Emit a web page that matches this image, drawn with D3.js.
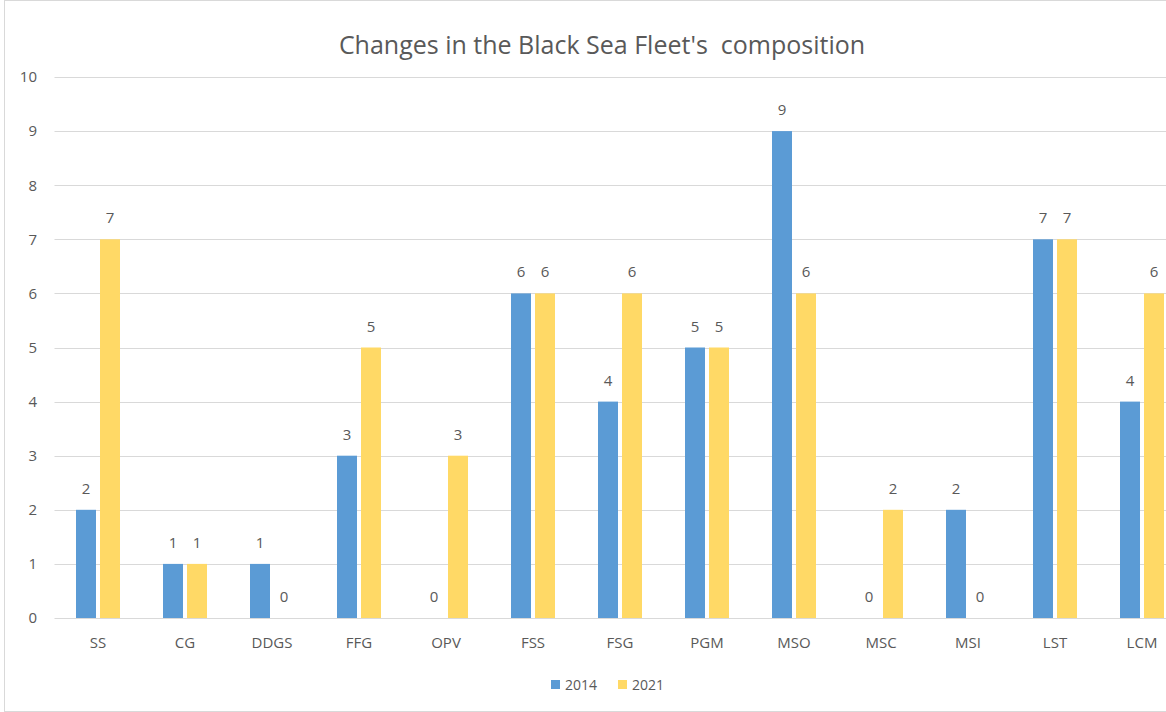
<!DOCTYPE html>
<html>
<head>
<meta charset="utf-8">
<script src="https://cdn.jsdelivr.net/npm/d3@7"></script>
<style>
  body { margin: 0; background: #fff; }
  svg { display: block; }
  text { font-family: 'Open Sans', 'Noto Sans', sans-serif; fill: #595959; }
</style>
</head>
<body>
<div id="chart"></div>
<script>
'use strict';

const categories = ['SS', 'CG', 'DDGS', 'FFG', 'OPV', 'FSS', 'FSG', 'PGM', 'MSO', 'MSC', 'MSI', 'LST', 'LCM'];
const seriesNames = ['2014', '2021'];
const values2014 = [2, 1, 1, 3, 0, 6, 4, 5, 9, 0, 2, 7, 4];
const values2021 = [7, 1, 0, 5, 3, 6, 6, 5, 6, 2, 0, 7, 6];
const yTicks = [0, 1, 2, 3, 4, 5, 6, 7, 8, 9, 10];
const colors = ['#5B9BD5', '#FFD966'];

(function(doc) {
    const W = 1166, H = 712;
    const plot = {left: 54.5, right: 1185.5, top: 77, bottom: 618};

    const svg = d3.select('#chart').append('svg')
        .attr('width', W)
        .attr('height', H);

    // outer chart border (cut off at the right)
    svg.append('rect')
        .attr('x', 4.5).attr('y', 0.5)
        .attr('width', W + 10).attr('height', H - 1)
        .attr('fill', 'none')
        .attr('stroke', '#D9D9D9');

    svg.append('text')
        .attr('x', 602).attr('y', 54)
        .attr('text-anchor', 'middle')
        .style('font-size', '25px')
        .style('white-space', 'pre')
        .text("Changes in the Black Sea Fleet's  composition");

    const x = d3.scaleBand()
        .domain(categories)
        .range([plot.left, plot.right]);
    const y = d3.scaleLinear().domain([0, 10]).range([plot.bottom, plot.top]);

    // gridlines
    svg.append('g')
        .selectAll('line')
        .data(yTicks).enter().append('line')
        .attr('x1', plot.left).attr('x2', W)
        .attr('y1', d => Math.round(y(d)) + 0.5)
        .attr('y2', d => Math.round(y(d)) + 0.5)
        .attr('stroke', '#D9D9D9')
        .attr('stroke-width', 1);

    // y axis labels
    const yAxis = svg.append('g')
        .attr('transform', 'translate(37, 0)')
        .call(d3.axisLeft(y).tickValues(yTicks).tickSize(0).tickPadding(0));
    yAxis.select('.domain').remove();
    yAxis.selectAll('text').style('font-size', '15px').style('font-family', null).attr('fill', null);

    // x axis labels
    const xAxis = svg.append('g')
        .attr('transform', `translate(0, ${plot.bottom})`)
        .call(d3.axisBottom(x).tickSize(0).tickPadding(19));
    xAxis.select('.domain').remove();
    xAxis.selectAll('text').style('font-size', '15px').style('font-family', null).attr('fill', null);

    const barW = 20, gap = 4;

    const rows = categories.map((c, i) => ({cat: c, vals: [values2014[i], values2021[i]]}));

    const groups = svg.append('g')
        .selectAll('g')
        .data(rows).enter().append('g')
        .attr('transform', d => `translate(${x(d.cat) + (x.bandwidth() - (barW * 2 + gap)) / 2}, 0)`);

    groups.selectAll('rect')
        .data(d => d.vals.map((v, k) => ({v: v, k: k})))
        .enter().append('rect')
        .attr('x', d => d.k * (barW + gap))
        .attr('y', d => y(d.v))
        .attr('width', barW)
        .attr('height', d => y(0) - y(d.v))
        .attr('fill', d => colors[d.k]);

    groups.selectAll('text.val')
        .data(d => d.vals.map((v, k) => ({v: v, k: k})))
        .enter().append('text')
        .attr('class', 'val')
        .attr('x', d => d.k * (barW + gap) + barW / 2)
        .attr('y', d => y(d.v) - 16)
        .attr('text-anchor', 'middle')
        .style('font-size', '15px')
        .text(d => d.v);

    // legend
    const legend = svg.append('g').attr('transform', 'translate(551, 685)');
    const legendX = [0, 67];
    seriesNames.forEach((name, k) => {
        legend.append('rect')
            .attr('x', legendX[k]).attr('y', -5)
            .attr('width', 9).attr('height', 9)
            .attr('fill', colors[k]);
        legend.append('text')
            .attr('x', legendX[k] + 14).attr('y', 5)
            .style('font-size', '14px')
            .text(name);
    });

}(document));
</script>
</body>
</html>
